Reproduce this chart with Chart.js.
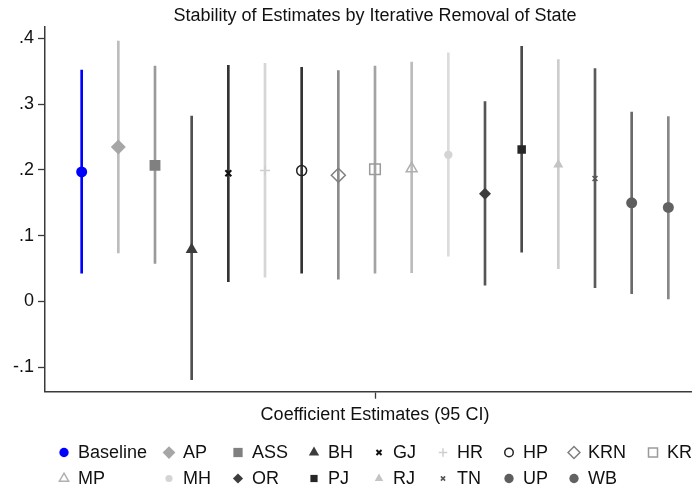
<!DOCTYPE html>
<html>
<head>
<meta charset="utf-8">
<script src="https://cdn.jsdelivr.net/npm/chart.js@4/dist/chart.umd.min.js"></script>
<style>
  html, body { margin: 0; padding: 0; background: #fff; overflow: hidden; width: 692px; height: 492px; }
  canvas { display: block; }
</style>
</head>
<body>
<canvas id="c" width="705" height="492"></canvas>
<script>
// ---- data ----
const states   = ['Baseline','AP','ASS','BH','GJ','HR','HP','KRN','KR','MP','MH','OR','PJ','RJ','TN','UP','WB'];
const estimate = [0.197,0.235,0.207,0.079,0.195,0.199,0.199,0.192,0.201,0.202,0.223,0.164,0.231,0.208,0.187,0.150,0.143];
const ciLow    = [0.043,0.074,0.058,-0.119,0.030,0.037,0.043,0.034,0.043,0.044,0.069,0.025,0.075,0.050,0.021,0.012,0.004];
const ciHigh   = [0.352,0.396,0.358,0.282,0.359,0.362,0.356,0.351,0.358,0.364,0.378,0.304,0.388,0.368,0.354,0.288,0.281];
const yTickValues = [-0.1, 0, 0.1, 0.2, 0.3, 0.4];
const xTickValues = [9];
const chartTitle = 'Stability of Estimates by Iterative Removal of State';
const xTitle = 'Coefficient Estimates (95 CI)';

// ---- styles ----
const markerColor = ['#0000ff','#a6a6a6','#808080','#3c3c3c','#111111','#cfcfcf','#222222','#7f7f7f','#9a9a9a','#b0b0b0','#d4d4d4','#3d3d3d','#262626','#c4c4c4','#555555','#5e5e5e','#626262'];
const lineColor   = ['#0000ff','#bdbdbd','#9a9a9a','#505050','#333333','#d6d6d6','#333333','#8c8c8c','#a3a3a3','#bcbcbc','#dcdcdc','#555555','#4a4a4a','#cdcdcd','#5a5a5a','#6a6a6a','#888888'];
const pStyle  = ['circle','rectRot','rect','triangle','crossRot','cross','circle','rectRot','rect','triangle','circle','rectRot','rect','triangle','crossRot','circle','circle'];
const pRadius = [5.5,7.5,7.7,7,4.2,5,5,7,7.5,6.3,4.2,6,6,5.8,3.5,5.5,5.5];
const hollow  = [false,false,false,false,true,true,true,true,true,true,false,false,false,false,true,false,false];
const pBorder = [0,0,0,0,2,1.5,1.5,1.5,1.5,1.5,0,0,0,0,1.5,0,0];

const FONT = '"Liberation Sans", Arial, sans-serif';
const AXIS = '#3a3a3a';

const datasets = states.map((s, i) => ({
  type: 'scatter',
  label: s,
  xAxisID: 'x',
  yAxisID: 'y',
  data: [{x: i + 1, y: estimate[i]}],
  pointStyle: pStyle[i],
  pointRadius: pRadius[i],
  pointHoverRadius: pRadius[i],
  backgroundColor: hollow[i] ? 'rgba(0,0,0,0)' : markerColor[i],
  borderColor: markerColor[i],
  borderWidth: pBorder[i],
  order: 0
}));
datasets.push({
  type: 'bar',
  label: 'CI',
  xAxisID: 'x',
  yAxisID: 'y',
  data: states.map((s, i) => ({x: i + 1, y: [ciLow[i], ciHigh[i]]})),
  backgroundColor: lineColor,
  borderWidth: 0,
  barThickness: 2,
  order: 100
});

// custom grid legend (Stata style)
const legendCols = [78, 183, 252, 328, 393, 457, 523, 588, 667];
const legendRows = [452.5, 478.5];
const legendPlugin = {
  id: 'stataLegend',
  afterDraw(chart) {
    const ctx = chart.ctx;
    ctx.save();
    ctx.font = '18px ' + FONT;
    ctx.textBaseline = 'middle';
    ctx.textAlign = 'left';
    states.forEach((s, i) => {
      const col = i < 9 ? i : i - 9;
      const row = i < 9 ? 0 : 1;
      const tx = legendCols[col];
      const ty = legendRows[row];
      const mx = tx - 14;
      ctx.fillStyle = hollow[i] ? 'rgba(0,0,0,0)' : markerColor[i];
      ctx.strokeStyle = markerColor[i];
      ctx.lineWidth = pBorder[i];
      const opts = {pointStyle: pStyle[i], rotation: 0, radius: pRadius[i] * 0.85, borderWidth: pBorder[i]};
      if (Chart.helpers && Chart.helpers.drawPoint) {
        Chart.helpers.drawPoint(ctx, opts, mx, ty);
      } else {
        ctx.beginPath(); ctx.arc(mx, ty, opts.radius, 0, Math.PI * 2); ctx.fill();
      }
      ctx.fillStyle = '#111';
      ctx.fillText(s, tx, ty + 1);
    });
    ctx.restore();
  }
};

new Chart(document.getElementById('c'), {
  type: 'scatter',
  data: { datasets },
  plugins: [legendPlugin],
  options: {
    responsive: false,
    devicePixelRatio: 1,
    animation: false,
    layout: { autoPadding: false, padding: 0 },
    plugins: {
      legend: { display: false },
      tooltip: { enabled: false },
      title: { display: false }
    },
    scales: {
      x: {
        type: 'linear',
        position: 'bottom',
        min: 0,
        max: 18,
        offset: false,
        afterBuildTicks: (ax) => { ax.ticks = xTickValues.map(v => ({value: v})); },
        afterFit: (ax) => { ax.height = 100.3; },
        ticks: { callback: () => '', autoSkip: false, maxRotation: 0, font: { family: FONT, size: 18 } },
        grid: { offset: false, drawOnChartArea: false, drawTicks: true, tickLength: 7, color: AXIS, tickWidth: 1.3 },
        border: { display: true, color: AXIS, width: 1.5 },
        title: {
          display: true,
          text: xTitle,
          color: '#111',
          font: { family: FONT, size: 18, lineHeight: 1.2 },
          padding: { top: 0, bottom: 66.5 }
        }
      },
      xTop: {
        type: 'linear',
        position: 'top',
        min: 0,
        max: 18,
        offset: false,
        afterFit: (ax) => { ax.height = 26.7; },
        ticks: { display: false },
        grid: { display: false, drawTicks: false },
        border: { display: false },
        title: {
          display: true,
          text: chartTitle,
          color: '#111',
          font: { family: FONT, size: 18, lineHeight: 1.2 },
          padding: { top: 5.2, bottom: 0 }
        }
      },
      y: {
        type: 'linear',
        min: -0.1371,
        max: 0.4178,
        afterBuildTicks: (ax) => { ax.ticks = yTickValues.map(v => ({value: v})); },
        afterFit: (ax) => { ax.width = 45; },
        ticks: {
          color: '#111',
          padding: 4,
          font: { family: FONT, size: 18 },
          callback: (v) => {
            if (Math.abs(v) < 1e-9) return '0';
            const s = (Math.round(v * 10) / 10).toFixed(1);
            return s.replace(/^(-?)0\./, '$1.');
          }
        },
        grid: { drawOnChartArea: false, drawTicks: true, tickLength: 7, color: AXIS, tickWidth: 1.3 },
        border: { display: true, color: AXIS, width: 1.5 }
      }
    }
  }
});
</script>
</body>
</html>
